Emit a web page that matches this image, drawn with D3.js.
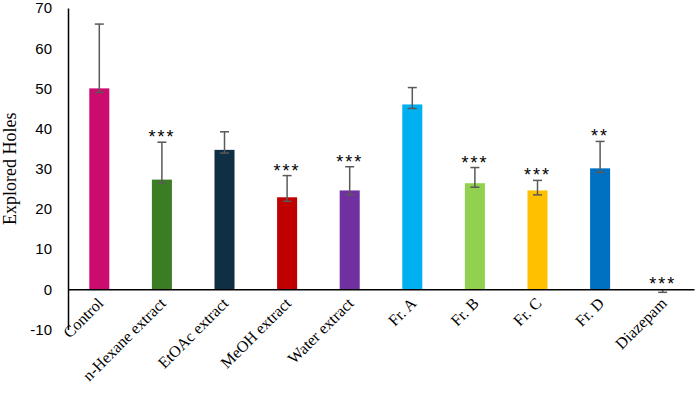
<!DOCTYPE html>
<html>
<head>
<meta charset="utf-8">
<script src="https://cdn.jsdelivr.net/npm/d3@7"></script>
<style>
    body { margin: 0; background: #fff; }
    svg { display: block; }
</style>
</head>
<body>
<div id="chart"></div>
<script>
// values
const groups = ["Control", "n-Hexane extract", "EtOAc extract", "MeOH extract", "Water extract",
    "Fr. A", "Fr. B", "Fr. C", "Fr. D", "Diazepam"];
const means = [50, 27.3, 34.7, 22.9, 24.6, 46.0, 26.4, 24.6, 30.1, 0];
const errUp = [16, 9.3, 4.5, 5.4, 5.9, 4.2, 3.9, 2.5, 6.7, 0];
const errDown = [1, 0.8, 0.8, 1.0, 1.1, 1.0, 1.0, 1.1, 1.0, 0.75];
const stars = ["", "***", "", "***", "***", "", "***", "***", "**", "***"];
const colors = ["#CC0B6E", "#3B7D23", "#0E2F44", "#C00000", "#7030A0",
    "#00B0F0", "#92D050", "#FFC000", "#0070C0", "#0070C0"];
const yTicks = [-10, 0, 10, 20, 30, 40, 50, 60, 70];

const width = 699, height = 394;

const svg = d3.select("#chart").append("svg")
    .attr("width", width)
    .attr("height", height);

const xScale = d3.scaleBand()
    .domain(groups)
    .range([68, 694])
    .paddingInner(0.68)
    .paddingOuter(0.34);

const yScale = d3.scaleLinear()
    .domain([-10, 70])
    .range([329.5, 8]);

// y axis
const yAxis = svg.append("g")
    .attr("transform", "translate(68,0)")
    .call(d3.axisLeft(yScale).tickValues(yTicks).tickFormat(d => String(d))
        .tickSize(0).tickPadding(16).tickSizeOuter(0));
yAxis.select(".domain").attr("stroke", "#000").attr("stroke-width", 1.5);
yAxis.selectAll("text")
    .attr("font-family", "Liberation Sans, Arial, sans-serif")
    .attr("font-size", 15)
    .attr("fill", "#000");

// bars
svg.append("g")
    .selectAll("rect")
    .data(groups)
    .join("rect")
    .attr("x", d => xScale(d))
    .attr("y", (d, i) => yScale(Math.max(means[i], 0)))
    .attr("width", xScale.bandwidth())
    .attr("height", (d, i) => Math.abs(yScale(means[i]) - yScale(0)))
    .attr("fill", (d, i) => colors[i]);

// error bars
const cx = d => xScale(d) + xScale.bandwidth() / 2;
const err = svg.append("g")
    .attr("stroke", "#595959")
    .attr("stroke-width", 1.5)
    .attr("fill", "none");

err.selectAll("line.v")
    .data(groups)
    .join("line")
    .attr("class", "v")
    .attr("x1", cx).attr("x2", cx)
    .attr("y1", (d, i) => yScale(means[i] + errUp[i]))
    .attr("y2", (d, i) => yScale(means[i] - errDown[i]));

err.selectAll("line.top")
    .data(groups.filter((d, i) => errUp[i] > 0))
    .join("line")
    .attr("class", "top")
    .attr("x1", d => cx(d) - 4.5).attr("x2", d => cx(d) + 4.5)
    .attr("y1", d => yScale(means[groups.indexOf(d)] + errUp[groups.indexOf(d)]))
    .attr("y2", d => yScale(means[groups.indexOf(d)] + errUp[groups.indexOf(d)]));

err.selectAll("line.bottom")
    .data(groups)
    .join("line")
    .attr("class", "bottom")
    .attr("x1", d => cx(d) - 4.5).attr("x2", d => cx(d) + 4.5)
    .attr("y1", (d, i) => yScale(means[i] - errDown[i]))
    .attr("y2", (d, i) => yScale(means[i] - errDown[i]));

// x axis along zero
const xAxis = svg.append("g")
    .attr("transform", `translate(0,${yScale(0)})`)
    .call(d3.axisBottom(xScale).tickSize(0).tickSizeOuter(0));
xAxis.select(".domain").attr("stroke", "#000").attr("stroke-width", 1.5);
xAxis.selectAll("text")
    .attr("font-family", "Liberation Serif, Times New Roman, serif")
    .attr("font-size", 16)
    .attr("fill", "#000")
    .attr("text-anchor", "end")
    .attr("y", null)
    .attr("dy", null)
    .attr("transform", "translate(5,15) rotate(-45)");

// significance stars
svg.append("g")
    .selectAll("text")
    .data(groups)
    .join("text")
    .attr("x", cx)
    .attr("y", (d, i) => yScale(means[i] + errUp[i]) + 1)
    .attr("text-anchor", "middle")
    .attr("font-family", "Liberation Sans, Arial, sans-serif")
    .attr("font-size", 18)
    .attr("letter-spacing", 2)
    .attr("fill", "#000")
    .text((d, i) => stars[i]);

// y label
svg.append("text")
    .attr("transform", `translate(16,${yScale(30)}) rotate(-90)`)
    .attr("text-anchor", "middle")
    .attr("font-family", "Liberation Serif, Times New Roman, serif")
    .attr("font-size", 18)
    .attr("fill", "#000")
    .text("Explored Holes");
</script>
</body>
</html>
